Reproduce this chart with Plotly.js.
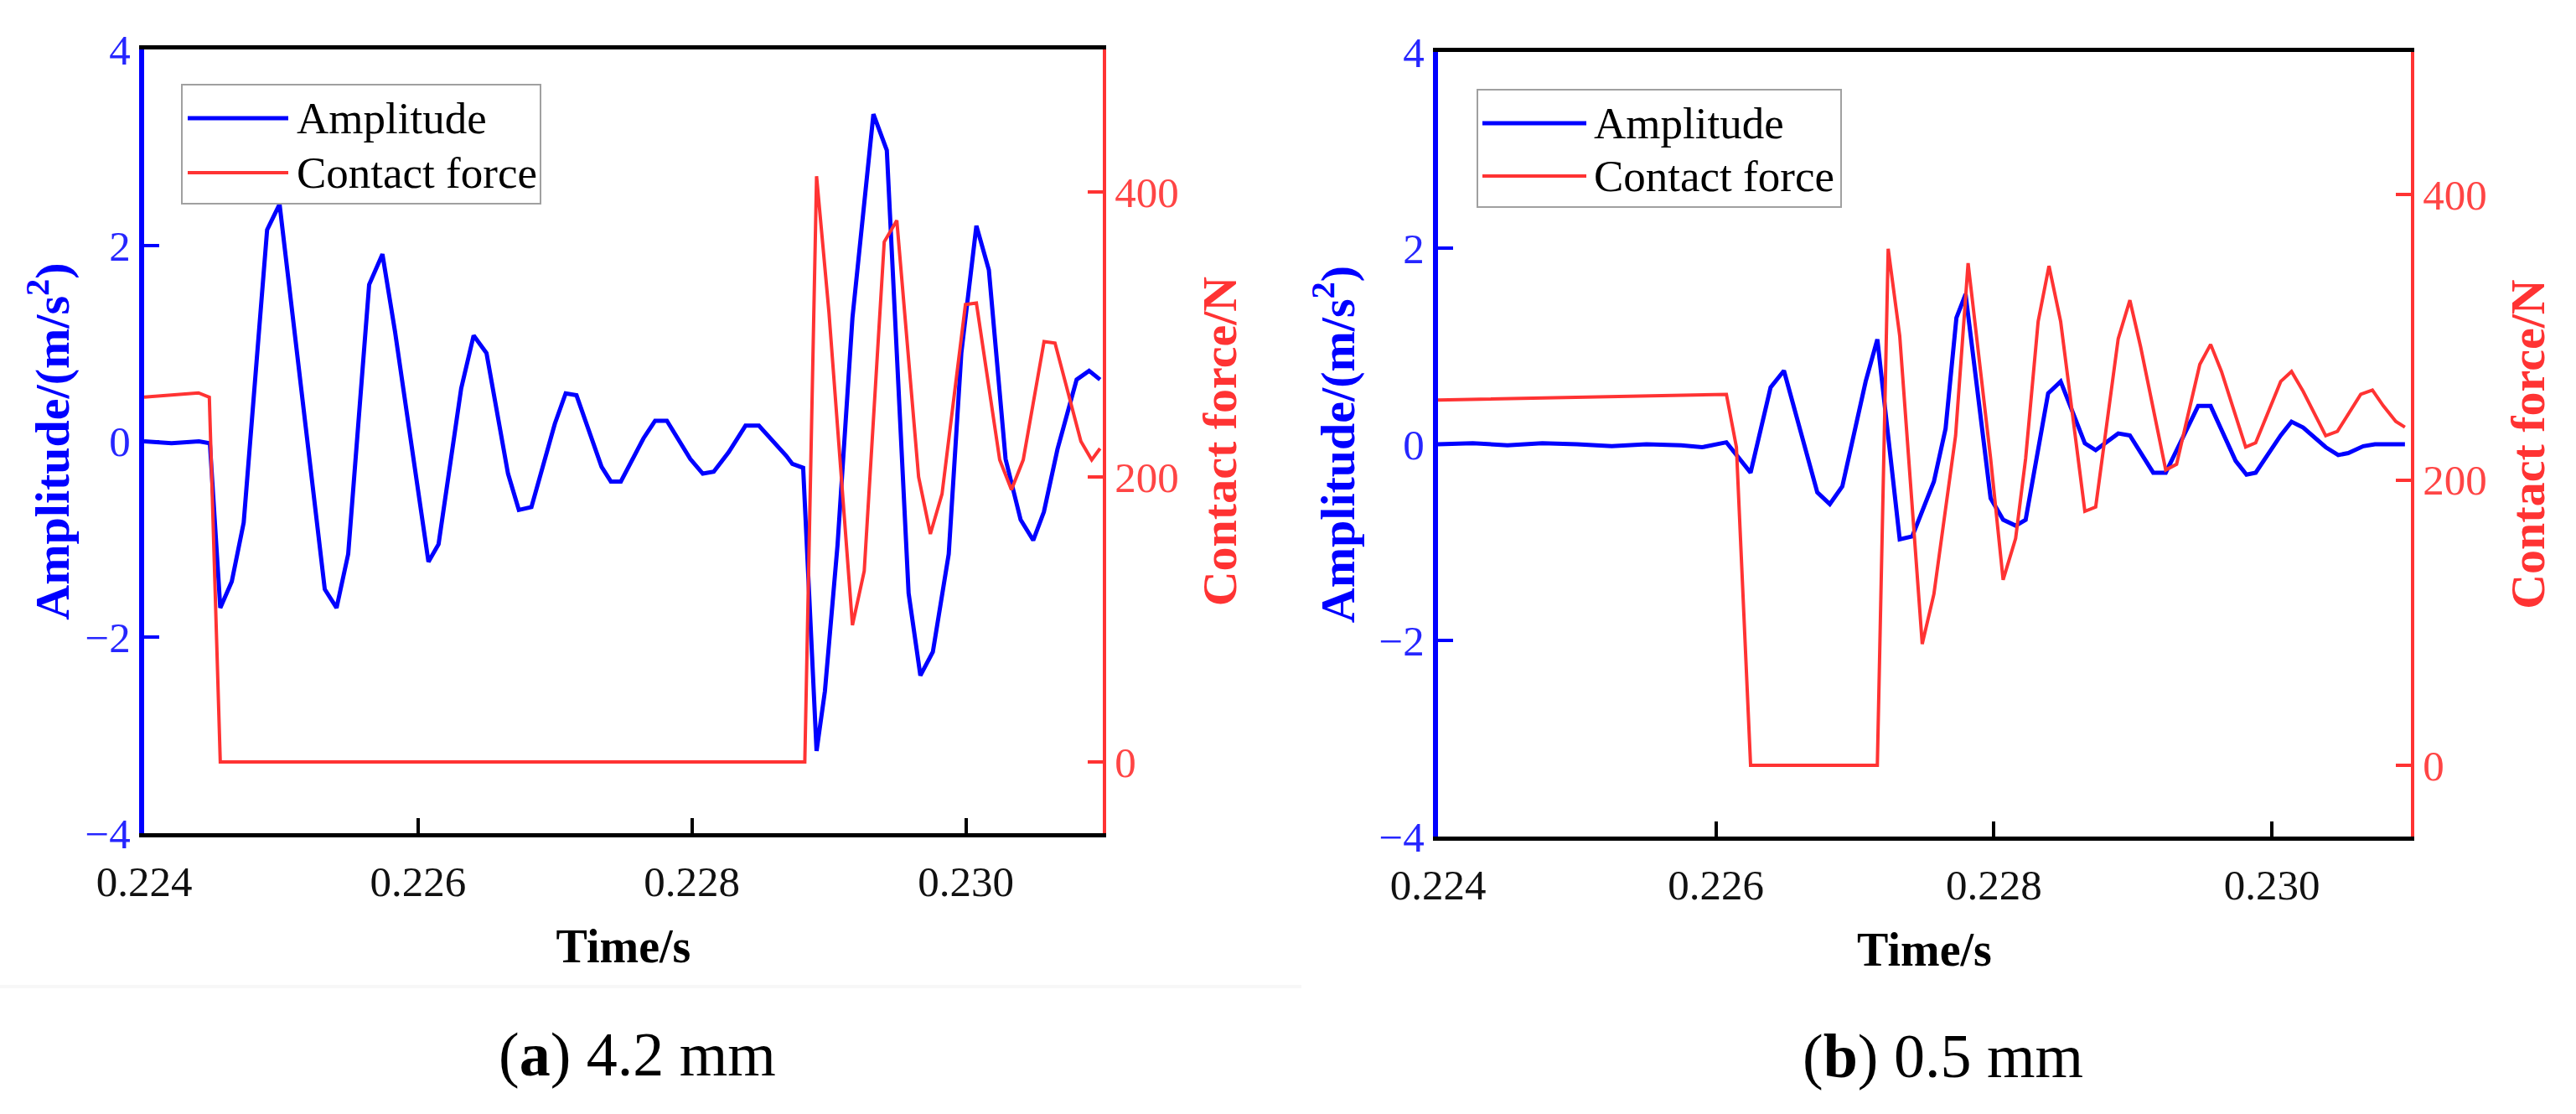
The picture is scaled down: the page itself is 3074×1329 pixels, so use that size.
<!DOCTYPE html>
<html>
<head>
<meta charset="utf-8">
<script src="https://cdn.plot.ly/plotly-3.0.1.min.js"></script>
<style>
  body { margin: 0; background: #fff; }
  #plotly_container { width: 3074px; height: 1329px; }
</style>
</head>
<body>
<div id="plotly_container"></div>
<script>
// ---- Data ----
// (a) 4.2 mm : amplitude
var tAmp_a = [0.22400, 0.22420, 0.22440, 0.22448, 0.224556, 0.22464, 0.224727, 0.224898, 0.224989,
  0.225319, 0.225405, 0.22549, 0.225643, 0.225740, 0.225832, 0.226076, 0.22615, 0.226315, 0.226406,
  0.2265, 0.226657, 0.226736, 0.226828, 0.226999, 0.227078, 0.227157, 0.22734, 0.227408, 0.227481,
  0.227646, 0.227731, 0.227817, 0.227988, 0.228079, 0.228159, 0.228269, 0.228391, 0.228489, 0.22869,
  0.228733, 0.228812, 0.22891, 0.228971, 0.229063, 0.229172, 0.229325, 0.229423, 0.229582, 0.229668,
  0.229759, 0.229875, 0.229967, 0.230077, 0.230168, 0.23029, 0.2304, 0.230492, 0.23057, 0.230669,
  0.230809, 0.2309, 0.23098];
var amp_a = [0.00, -0.02, 0.00, -0.02, -1.70, -1.43, -0.83, 2.16, 2.42,
  -1.51, -1.70, -1.15, 1.60, 1.91, 1.12, -1.23, -1.05, 0.54, 1.08,
  0.90, -0.33, -0.70, -0.67, 0.18, 0.49, 0.47, -0.26, -0.41, -0.41,
  0.03, 0.21, 0.21, -0.18, -0.33, -0.31, -0.11, 0.16, 0.16, -0.15,
  -0.23, -0.27, -3.16, -2.55, -1.06, 1.26, 3.34, 2.97, -1.55, -2.39,
  -2.15, -1.15, 0.90, 2.20, 1.75, -0.18, -0.80, -1.01, -0.72, -0.08,
  0.63, 0.72, 0.63];
// (a) 4.2 mm : contact force
var tForce_a = [0.22400, 0.224397, 0.224476, 0.224556, 0.228824, 0.22891, 0.229, 0.229172, 0.229258,
  0.229404, 0.229496, 0.229655, 0.229741, 0.229826, 0.229997, 0.230077, 0.230247, 0.230333, 0.230419,
  0.230571, 0.230651, 0.23084, 0.230919, 0.23098];
var force_a = [256, 259, 256, 0, 0, 411, 316, 96, 134,
  365, 380, 200, 160, 188, 321, 322, 212, 191, 212,
  295, 294, 225, 212, 220];

// (b) 0.5 mm : amplitude
var tAmp_b = [0.22400, 0.22425, 0.22450, 0.22475, 0.22500, 0.22525, 0.22550, 0.22575, 0.22590, 0.22600,
  0.226075, 0.226249, 0.226393, 0.226489, 0.226729, 0.226819, 0.226909, 0.227077, 0.227161, 0.227322,
  0.227412, 0.227568, 0.227652, 0.22773, 0.227796, 0.227976, 0.228066, 0.228156, 0.228228, 0.22839,
  0.22848, 0.228654, 0.228732, 0.228894, 0.228978, 0.229146, 0.229236, 0.229469, 0.229559, 0.229739,
  0.229817, 0.229883, 0.230063, 0.230141, 0.230225, 0.230387, 0.230477, 0.230549, 0.230657, 0.230741,
  0.230957];
var amp_b = [0.00, 0.01, -0.01, 0.01, 0.00, -0.02, 0.00, -0.01, -0.03, 0.00,
  0.02, -0.29, 0.58, 0.75, -0.49, -0.61, -0.43, 0.64, 1.07, -0.97,
  -0.94, -0.38, 0.16, 1.29, 1.53, -0.55, -0.77, -0.83, -0.77, 0.52,
  0.64, 0.01, -0.06, 0.11, 0.09, -0.29, -0.29, 0.39, 0.39, -0.17,
  -0.31, -0.29, 0.09, 0.23, 0.17, -0.03, -0.11, -0.09, -0.02, 0.00,
  0.00];
// (b) 0.5 mm : contact force
var tForce_b = [0.22400, 0.226075, 0.226147, 0.226249, 0.227161, 0.227239, 0.227322, 0.227484, 0.227568,
  0.227724, 0.227814, 0.227976, 0.228066, 0.228156, 0.228228, 0.228318, 0.228396, 0.22848, 0.228654,
  0.228732, 0.228894, 0.228978, 0.229056, 0.229236, 0.229314, 0.229481, 0.229559, 0.229637, 0.229811,
  0.229883, 0.230063, 0.230141, 0.230225, 0.230387, 0.230471, 0.230639, 0.230723, 0.230801, 0.230891,
  0.230957];
var force_b = [256, 260, 223, 0, 0, 362, 301, 85, 120,
  231, 352, 215, 130, 159, 215, 311, 350, 311, 178,
  181, 299, 326, 293, 207, 211, 281, 295, 276, 223,
  226, 269, 276, 262, 231, 234, 260, 263, 252, 241,
  237];

// Tick labels
var timeTicks = [0.224, 0.226, 0.228, 0.230];
var timeTickText = ['0.224', '0.226', '0.228', '0.230'];
var ampTicks = [-4, -2, 0, 2, 4];
var forceTicks = [0, 200, 400];

var seriesNames = ['Amplitude', 'Contact force'];
var captions = ['(<b>a</b>) 4.2 mm', '(<b>b</b>) 0.5 mm'];

// ---- Style ----
var W = 3074, H = 1329;
var SERIF = 'Liberation Serif, Times New Roman, serif';
var BLUE = '#0000ff', RED = '#ff3333';
var BLUE_TXT = '#2626ff', RED_TXT = '#ff4545';

// pixel -> paper
function px(x) { return x / W; }
function py(y) { return 1 - y / H; }

function fn_TimeAxis(domain, anchor) {
  return {
    domain: domain, anchor: anchor,
    range: [0.224, 0.231], tickvals: timeTicks, ticktext: timeTickText,
    ticks: 'inside', ticklen: 18, tickwidth: 4, tickcolor: '#000',
    showline: true, linecolor: '#000', linewidth: 5, mirror: true,
    showgrid: false, zeroline: false,
    ticklabelstandoff: 9,
    tickfont: { family: SERIF, size: 51, color: '#111' },
    title: { text: 'Time/s', font: { family: SERIF, size: 56, color: '#000', weight: 'bold' }, standoff: 31 }
  };
}
function fn_AmpAxis(domain, anchor, standoff) {
  return {
    domain: domain, anchor: anchor,
    range: [-4, 4], tickvals: ampTicks,
    ticks: 'inside', ticklen: 18, tickwidth: 4, tickcolor: BLUE,
    showline: true, linecolor: BLUE, linewidth: 6,
    showgrid: false, zeroline: false,
    tickfont: { family: SERIF, size: 51, color: BLUE_TXT },
    title: { text: 'Amplitude/(m/s<sup>2</sup>)', font: { family: SERIF, size: 58, color: BLUE, weight: 'bold' }, standoff: standoff }
  };
}
function fn_ForceAxis(overlay, anchor, standoff) {
  return {
    overlaying: overlay, anchor: anchor, side: 'right',
    range: [-50, 500], tickvals: forceTicks,
    ticks: 'inside', ticklen: 18, tickwidth: 4, tickcolor: RED,
    showline: true, linecolor: RED, linewidth: 4,
    showgrid: false, zeroline: false,
    tickfont: { family: SERIF, size: 51, color: RED_TXT },
    title: { text: 'Contact force/N', font: { family: SERIF, size: 58, color: RED, weight: 'bold' }, standoff: standoff }
  };
}

var traces = [
  { x: tAmp_a, y: amp_a, xaxis: 'x', yaxis: 'y', name: seriesNames[0], mode: 'lines', line: { color: BLUE, width: 5 } },
  { x: tForce_a, y: force_a, xaxis: 'x', yaxis: 'y2', name: seriesNames[1], mode: 'lines', line: { color: RED, width: 4 } },
  { x: tAmp_b, y: amp_b, xaxis: 'x2', yaxis: 'y3', name: seriesNames[0], mode: 'lines', line: { color: BLUE, width: 5 } },
  { x: tForce_b, y: force_b, xaxis: 'x2', yaxis: 'y4', name: seriesNames[1], mode: 'lines', line: { color: RED, width: 4 } }
];

// Legend boxes drawn by hand (long line samples like the original)
var shapes = [], annotations = [];
function fn_Legend(x0, y0, x1, y1, lineX0, lineX1, row1, row2, textX) {
  shapes.push({ type: 'rect', xref: 'paper', yref: 'paper', x0: px(x0), x1: px(x1), y0: py(y0), y1: py(y1),
    line: { color: '#a0a0a0', width: 2 }, fillcolor: 'rgba(255,255,255,0)' });
  shapes.push({ type: 'line', xref: 'paper', yref: 'paper', x0: px(lineX0), x1: px(lineX1), y0: py(row1), y1: py(row1),
    line: { color: BLUE, width: 5 } });
  shapes.push({ type: 'line', xref: 'paper', yref: 'paper', x0: px(lineX0), x1: px(lineX1), y0: py(row2), y1: py(row2),
    line: { color: RED, width: 4 } });
  annotations.push({ xref: 'paper', yref: 'paper', x: px(textX), y: py(row1), xanchor: 'left', yanchor: 'middle',
    text: seriesNames[0], showarrow: false, font: { family: SERIF, size: 53, color: '#000' } });
  annotations.push({ xref: 'paper', yref: 'paper', x: px(textX), y: py(row2), xanchor: 'left', yanchor: 'middle',
    text: seriesNames[1], showarrow: false, font: { family: SERIF, size: 53, color: '#000' } });
}
fn_Legend(217, 101, 645, 243, 224, 344, 141, 206, 352);
fn_Legend(1763, 107, 2197, 247, 1769, 1893, 147, 210, 1900);

// Captions under each panel
annotations.push({ xref: 'paper', yref: 'paper', x: px(760), y: py(1258), xanchor: 'center', yanchor: 'middle',
  text: captions[0], showarrow: false, font: { family: SERIF, size: 74, color: '#000' } });
annotations.push({ xref: 'paper', yref: 'paper', x: px(2318), y: py(1260), xanchor: 'center', yanchor: 'middle',
  text: captions[1], showarrow: false, font: { family: SERIF, size: 74, color: '#000' } });

// faint separator line left over from the source image
shapes.push({ type: 'line', xref: 'paper', yref: 'paper', x0: 0, x1: px(1553), y0: py(1177), y1: py(1177),
  line: { color: '#f7f7f7', width: 4 } });

var layout = {
  width: W, height: H,
  margin: { l: 0, r: 0, t: 0, b: 0 },
  paper_bgcolor: '#fff', plot_bgcolor: '#fff',
  showlegend: false,
  xaxis: fn_TimeAxis([px(172), px(1316)], 'y'),
  yaxis: fn_AmpAxis([py(994), py(59)], 'x', 2),
  yaxis2: fn_ForceAxis('y', 'x', 30),
  xaxis2: fn_TimeAxis([px(1716), px(2877)], 'y3'),
  yaxis3: fn_AmpAxis([py(998), py(62)], 'x2', 12),
  yaxis4: fn_ForceAxis('y3', 'x2', 30),
  shapes: shapes,
  annotations: annotations
};

Plotly.newPlot('plotly_container', traces, layout, { staticPlot: true, displayModeBar: false });
</script>
</body>
</html>
